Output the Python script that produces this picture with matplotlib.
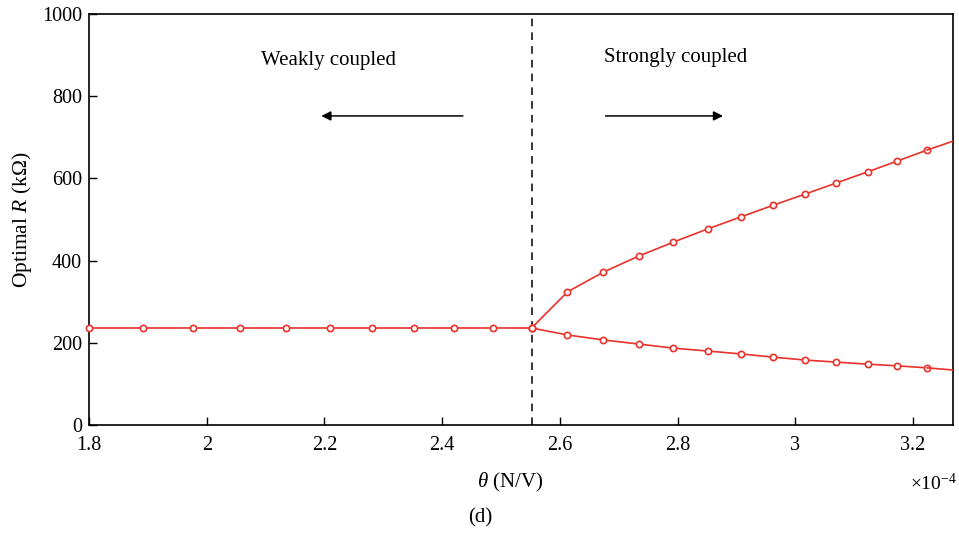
import matplotlib
matplotlib.use("Agg")
import matplotlib.pyplot as plt

plt.rcParams['font.family'] = ['Liberation Serif', 'DejaVu Serif']
plt.rcParams['mathtext.fontset'] = 'custom'
plt.rcParams['mathtext.rm'] = 'Liberation Serif'
plt.rcParams['mathtext.it'] = 'Liberation Serif:italic'

# theta in units of 1e-4 N/V
theta_weak = [1.80, 1.892, 1.977, 2.056, 2.134, 2.209, 2.280, 2.352, 2.420, 2.486, 2.552]
r_weak = [236, 236, 236, 236, 236, 236, 236, 236, 236, 236, 236]

theta_strong = [2.552, 2.613, 2.674, 2.734, 2.793, 2.851, 2.907, 2.963, 3.017, 3.070,
                3.123, 3.173, 3.224, 3.275]
r_upper = [236, 324, 372, 411, 445, 477, 506, 535, 562, 589, 616, 642, 669, 694]
r_lower = [236, 219, 207, 197, 187, 180, 173, 165, 158, 153, 148, 144, 139, 133]

x_ticks = [1.8, 2.0, 2.2, 2.4, 2.6, 2.8, 3.0, 3.2]
x_tick_labels = ['1.8', '2', '2.2', '2.4', '2.6', '2.8', '3', '3.2']
y_ticks = [0, 200, 400, 600, 800, 1000]
critical_theta = 2.552

red = '#e8322b'

fig = plt.figure(figsize=(9.59, 5.40), dpi=100)
ax = fig.add_axes([89/959, 115/540, (953-89)/959, (425-14)/540])

mk = dict(marker='o', markersize=4.5, markerfacecolor='white', markeredgecolor=red,
          markeredgewidth=1.2, color=red, lw=1.2, clip_on=False, zorder=3)
ax.plot(theta_weak, r_weak, **mk)
ax.plot(theta_strong[:-1], r_upper[:-1], **mk)
ax.plot(theta_strong[:-1], r_lower[:-1], **mk)
ax.plot(theta_strong[-2:], r_upper[-2:], color=red, lw=1.2, zorder=3)
ax.plot(theta_strong[-2:], r_lower[-2:], color=red, lw=1.2, zorder=3)

ax.axvline(critical_theta, color='black', ls=(0, (5, 4)), lw=1.1, zorder=2)

ax.set_xlim(1.8, 3.268)
ax.set_ylim(0, 1000)
ax.set_xticks(x_ticks)
ax.set_xticklabels(x_tick_labels)
ax.set_yticks(y_ticks)
ax.tick_params(direction='in', length=6, width=1, labelsize=14.5)
ax.tick_params(axis='x', pad=8)
ax.tick_params(axis='y', pad=5)
for s in ax.spines.values():
    s.set_linewidth(1.2)

ax.text(2.207, 888, 'Weakly coupled', ha='center', va='center', fontsize=15)
ax.text(2.797, 895, 'Strongly coupled', ha='center', va='center', fontsize=15)
ax.annotate('', xy=(2.19, 752), xytext=(2.44, 752),
            arrowprops=dict(arrowstyle='-|>', color='black', lw=1.1, mutation_scale=14))
ax.annotate('', xy=(2.882, 752), xytext=(2.673, 752),
            arrowprops=dict(arrowstyle='-|>', color='black', lw=1.1, mutation_scale=14))

ax.set_ylabel(r'Optimal $R$ (k$\Omega$)', fontsize=15.5, labelpad=6)
fig.text(510/959, 1 - 482/540, r'$\theta$ (N/V)', ha='center', va='center', fontsize=15)
fig.text(933/959, 1 - 484/540, r'$\times$10$^{-4}$', ha='center', va='center', fontsize=14)
fig.text(480/959, 1 - 518/540, '(d)', ha='center', va='center', fontsize=15)

fig.savefig('out.png', dpi=100)
